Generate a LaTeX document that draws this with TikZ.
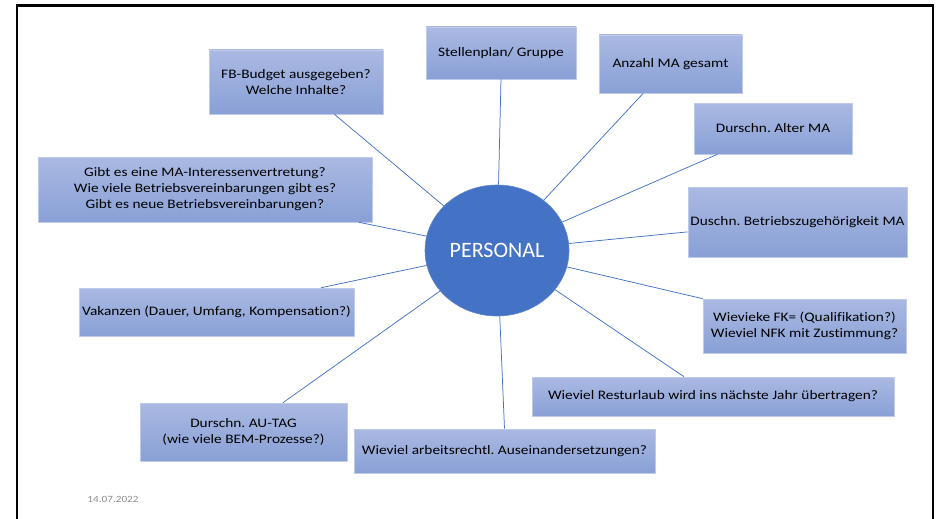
\documentclass[tikz,border=0pt]{standalone}
\usepackage{fontspec}
\setmainfont{Carlito}
\newfontfamily\boxfont{Carlito}[FakeStretch=1.18, Ligatures=NoCommon]
\usepackage{tikz}
\usetikzlibrary{calc}
\usetikzlibrary{shapes.geometric}

\definecolor{persblue}{RGB}{68,114,196}
\definecolor{boxtop}{RGB}{170,185,226}
\definecolor{boxbot}{RGB}{137,160,214}
\definecolor{boxedge}{RGB}{190,202,234}
\definecolor{dategray}{RGB}{140,140,140}

\begin{document}
\frenchspacing
\begin{tikzpicture}[x=1pt, y=-1pt,
  qbox/.style={rectangle, top color=boxtop, bottom color=boxbot, draw=boxedge,
    line width=0.6pt, inner sep=0pt, align=center, font=\boxfont\fontsize{13}{16}\selectfont},
  spoke/.style={draw=persblue, line width=0.75pt}]

\useasboundingbox (0, 0) rectangle (937, 519);

\draw[line width=2.5pt] (17, 530) -- (17, 5.5) -- (933, 5.5) -- (933, 530);

\node[ellipse, fill=persblue, draw=persblue!85!white, line width=0.6pt, minimum width=144, minimum height=131,
  inner sep=0pt, text=white, font=\fontsize{22}{26}\selectfont] (pers) at (497, 250.5) {PERSONAL};

\node[qbox, minimum width=174, minimum height=64] (fb) at (296, 82) {FB-Budget ausgegeben?\\Welche Inhalte?};
\node[qbox, minimum width=150, minimum height=52] (stellen) at (501, 53) {Stellenplan/ Gruppe};
\node[qbox, minimum width=143, minimum height=58] (anzahl) at (670.5, 64) {Anzahl MA gesamt};
\node[qbox, minimum width=158, minimum height=51] (alter) at (773, 128.5) {Durschn. Alter MA};
\node[qbox, minimum width=219, minimum height=70] (betrieb) at (797.5, 222) {Duschn. Betriebszugehörigkeit MA};
\node[qbox, minimum width=334, minimum height=65] (gibt) at (205, 189.5) {Gibt es eine MA-Interessenvertretung?\\Wie viele Betriebsvereinbarungen gibt es?\\Gibt es neue Betriebsvereinbarungen?};
\node[qbox, minimum width=275, minimum height=48] (vak) at (216.5, 312) {Vakanzen (Dauer, Umfang, Kompensation?)};
\node[qbox, minimum width=207, minimum height=58] (au) at (243.5, 432) {Durschn. AU-TAG\\(wie viele BEM-Prozesse?)};
\node[qbox, minimum width=301, minimum height=44] (arbeit) at (504.5, 451) {Wieviel arbeitsrechtl. Auseinandersetzungen?};
\node[qbox, minimum width=362, minimum height=39] (rest) at (713, 396.5) {Wieviel Resturlaub wird ins nächste Jahr übertragen?};
\node[qbox, minimum width=203, minimum height=54] (fk) at (804.5, 326) {Wievieke FK= (Qualifikation?)\\Wieviel NFK mit Zustimmung?};

\draw[spoke] ($(fb.south west)!.72!(fb.south east)$) -- (pers);
\draw[spoke] (stellen.south) -- (pers);
\draw[spoke] ($(anzahl.south west)!.31!(anzahl.south east)$) -- (pers);
\draw[spoke] ($(alter.south west)!.15!(alter.south east)$) -- (pers);
\draw[spoke] ($(betrieb.north west)!.64!(betrieb.south west)$) -- (pers);
\draw[spoke] ($(gibt.south west)!.96!(gibt.south east)$) -- (pers);
\draw[spoke] ($(vak.north west)!.88!(vak.north east)$) -- (pers);
\draw[spoke] ($(au.north west)!.69!(au.north east)$) -- (pers);
\draw[spoke] (arbeit.north) -- (pers);
\draw[spoke] ($(rest.north west)!.42!(rest.north east)$) -- (pers);
\draw[spoke] (fk.north west) -- (pers);

\node[text=dategray, font=\boxfont\fontsize{9.5}{11}\selectfont] (datum) at (113, 499) {14.07.2022};

\end{tikzpicture}
\end{document}
